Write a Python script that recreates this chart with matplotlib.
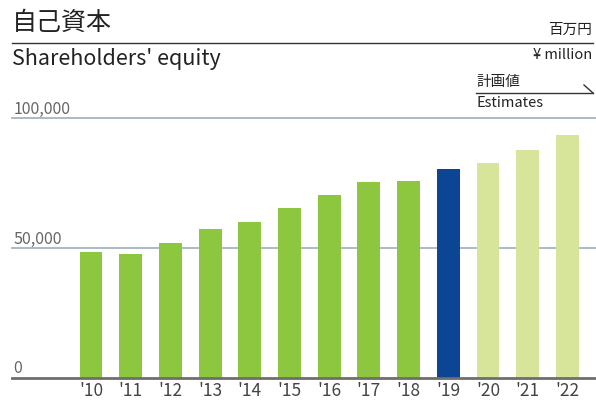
import matplotlib.pyplot as plt
import matplotlib.transforms as mtransforms

plt.rcParams['font.family'] = ['Noto Sans CJK JP', 'DejaVu Sans']

years = ["'10", "'11", "'12", "'13", "'14", "'15", "'16", "'17", "'18", "'19", "'20", "'21", "'22"]
equity = [48400, 47700, 51900, 57300, 60000, 65400, 70400, 75400, 75800, 80500, 82800, 87800, 93600]
kind = ['actual'] * 9 + ['current'] + ['estimate'] * 3
yticks = [0, 50000, 100000]
ytick_labels = ['0', '50,000', '100,000']

colors = {'actual': '#8dc63f', 'current': '#0b4594', 'estimate': '#d6e59a'}

fig = plt.figure(figsize=(5.96, 4.01), dpi=100)
W, H = 596, 401

# plot area: x 12..596 px, y 118..377.5 px
ax = fig.add_axes([12 / W, (H - 377.5) / H, (596 - 12) / W, (377.5 - 118.3) / H])
x = range(len(years))
ax.bar(x, equity, width=0.575, color=[colors[k] for k in kind], zorder=3)
ax.set_xlim(-1.99, 12.72)
ax.set_ylim(0, 100000)

for v in yticks[1:]:
    ax.axhline(v, color='#a3b5c1', lw=1.3, zorder=1, clip_on=False)
ax.axhline(0, color='#6e6e6e', lw=2, zorder=4, clip_on=False)

for s in ax.spines.values():
    s.set_visible(False)
ax.set_yticks([])
ax.set_xticks(list(x))
ax.set_xticklabels(years, fontsize=12.5, color='#444444')
ax.tick_params(axis='x', length=0, pad=3.5)

trans = mtransforms.blended_transform_factory(ax.transAxes, ax.transData)
for v, lab in zip(yticks, ytick_labels):
    ax.text(0.002, v + 1700, lab, transform=trans, ha='left', va='baseline',
            fontsize=11.5, color='#666666')

# header
fig.text(12 / W, 1 - 23 / H, '自己資本', fontsize=18, color='#222222', va='center', ha='left')
fig.add_artist(plt.Line2D([12 / W, 593 / W], [1 - 43 / H, 1 - 43 / H], color='#333333', lw=1))
fig.text(12 / W, 1 - 59 / H, "Shareholders' equity", fontsize=15.5, color='#222222', va='center', ha='left')
fig.text(592 / W, 1 - 30 / H, '百万円', fontsize=10.5, color='#222222', va='center', ha='right')
fig.text(592 / W, 1 - 55 / H, '¥ million', fontsize=10.5, color='#222222', va='center', ha='right')

# estimates marker
fig.text(476 / W, 1 - 82 / H, '計画値', fontsize=10.5, color='#222222', va='center', ha='left')
fig.add_artist(plt.Line2D([476 / W, 593 / W], [1 - 93 / H, 1 - 93 / H], color='#333333', lw=1))
fig.add_artist(plt.Line2D([584 / W, 593 / W], [1 - 85 / H, 1 - 93 / H], color='#333333', lw=1))
fig.text(476 / W, 1 - 103 / H, 'Estimates', fontsize=10.5, color='#222222', va='center', ha='left')

fig.savefig('out.png', dpi=100)
